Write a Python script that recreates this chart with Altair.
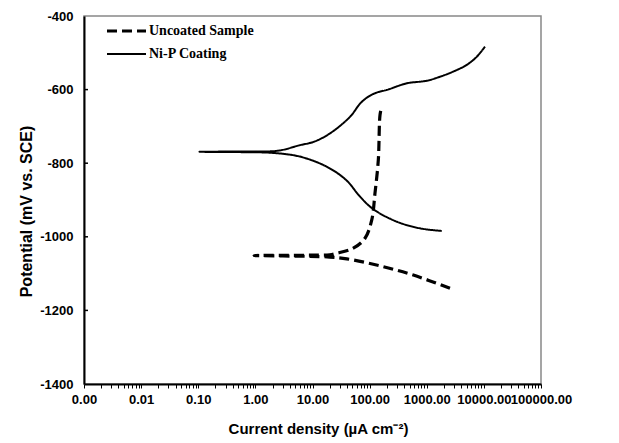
import altair as alt
import pandas as pd

# ---- data ----
uncoated_current = [2550, 582, 152, 40, 20, 8, 0.95, 8, 20, 26.2, 51.8, 83, 109, 124, 142, 152, 163]
uncoated_potential = [-1140, -1104, -1079, -1060, -1055, -1053, -1051, -1050, -1049, -1045, -1031, -1004, -954, -882, -791, -669, -646]

nip_current = [1830, 760, 300, 116, 68, 39, 18, 6.0, 2.0, 0.6, 0.105,
               0.6, 2.5, 6.0, 10.5, 20.2, 45.3, 70, 100, 140, 199, 446, 998, 1706, 2917, 5000, 7480, 10450]
nip_potential = [-984, -977, -959, -925, -891, -846, -810, -782, -772, -770, -769,
                 -768, -766, -751, -742, -719, -674, -636, -617, -607, -601, -583, -576, -565, -551, -533, -511, -483]

series_names = ["Uncoated Sample", "Ni-P Coating"]
x_major = [0.001, 0.01, 0.1, 1, 10, 100, 1000, 10000, 100000]
y_ticks = [-1400, -1200, -1000, -800, -600, -400]

minor_factors = [2, 3, 4, 5, 6, 7, 8, 9]
x_tick_values = list(x_major) + [m * f for m in x_major[:-1] for f in minor_factors]

rows = []
for i, (c, p) in enumerate(zip(uncoated_current, uncoated_potential)):
    rows.append({"series": series_names[0], "I": c, "E": p, "order": i})
for i, (c, p) in enumerate(zip(nip_current, nip_potential)):
    rows.append({"series": series_names[1], "I": c, "E": p, "order": i})
df = pd.DataFrame(rows)

tick_df = pd.DataFrame({"E": y_ticks[1:-1]})

FONT = "Liberation Sans"

x_enc = alt.X(
    "I:Q",
    scale=alt.Scale(type="log", domain=[0.001, 100000], nice=False),
    axis=alt.Axis(
        values=x_tick_values,
        labelExpr="abs(log(datum.value)/LN10 - round(log(datum.value)/LN10)) < 0.001 ? format(datum.value, '.2f') : ''",
        labelOverlap=False,
        labelFlush=False,
        labelBound=False,
        grid=False,
        tickSize=4,
        tickColor="black",
        tickWidth=1,
        domainColor="black",
        domainWidth=2,
        labelFont=FONT,
        labelFontWeight="bold",
        labelFontSize=13,
        labelColor="black",
        labelPadding=5,
        title="Current density (µA cm⁻²)",
        titleFont=FONT,
        titleFontWeight="bold",
        titleFontSize=15,
        titleColor="black",
        titlePadding=15,
        titleX=234,
    ),
)

y_enc = alt.Y(
    "E:Q",
    scale=alt.Scale(domain=[-1400, -400], nice=False),
    axis=alt.Axis(
        values=y_ticks,
        labelExpr="'' + datum.value",
        grid=False,
        ticks=False,
        tickSize=0,
        domainColor="black",
        domainWidth=2,
        labelFont=FONT,
        labelFontWeight="bold",
        labelFontSize=13,
        labelColor="black",
        labelPadding=11,
        title="Potential (mV vs. SCE)",
        titleFont=FONT,
        titleFontWeight="bold",
        titleFontSize=16,
        titleColor="black",
        titlePadding=5,
        titleY=195,
    ),
)

legend_def = alt.Legend(
    title=None,
    orient="none",
    legendX=21,
    legendY=8,
    symbolType="stroke",
    symbolSize=1521,
    clipHeight=14,
    labelFont="Liberation Serif",
    labelFontWeight="bold",
    labelFontSize=14,
    labelColor="black",
    labelOffset=1,
    rowPadding=9,
)

lines = alt.Chart(df).mark_line(interpolate="catmull-rom").encode(
    x=x_enc,
    y=y_enc,
    order="order:Q",
    color=alt.Color(
        "series:N",
        scale=alt.Scale(domain=series_names, range=["black", "black"]),
        legend=legend_def,
    ),
    strokeDash=alt.StrokeDash(
        "series:N",
        scale=alt.Scale(domain=series_names, range=[[10, 5], [1, 0]]),
        legend=legend_def,
    ),
    strokeWidth=alt.StrokeWidth(
        "series:N",
        scale=alt.Scale(domain=series_names, range=[3.2, 2]),
        legend=legend_def,
    ),
)

yticks = alt.Chart(tick_df).mark_rule(color="black", strokeWidth=1.5).encode(
    y=y_enc,
    x=alt.value(0),
    x2=alt.value(4),
)

chart = (
    alt.layer(lines, yticks)
    .properties(
        width=457,
        height=368,
        autosize=alt.AutoSizeParams(type="none"),
        padding={"left": 76, "top": 8, "right": 60, "bottom": 60},
        background="white",
    )
    .configure_view(stroke="#888888", strokeWidth=1.5)
)

chart.save("out.html", embed_options={"renderer": "svg", "actions": False})
